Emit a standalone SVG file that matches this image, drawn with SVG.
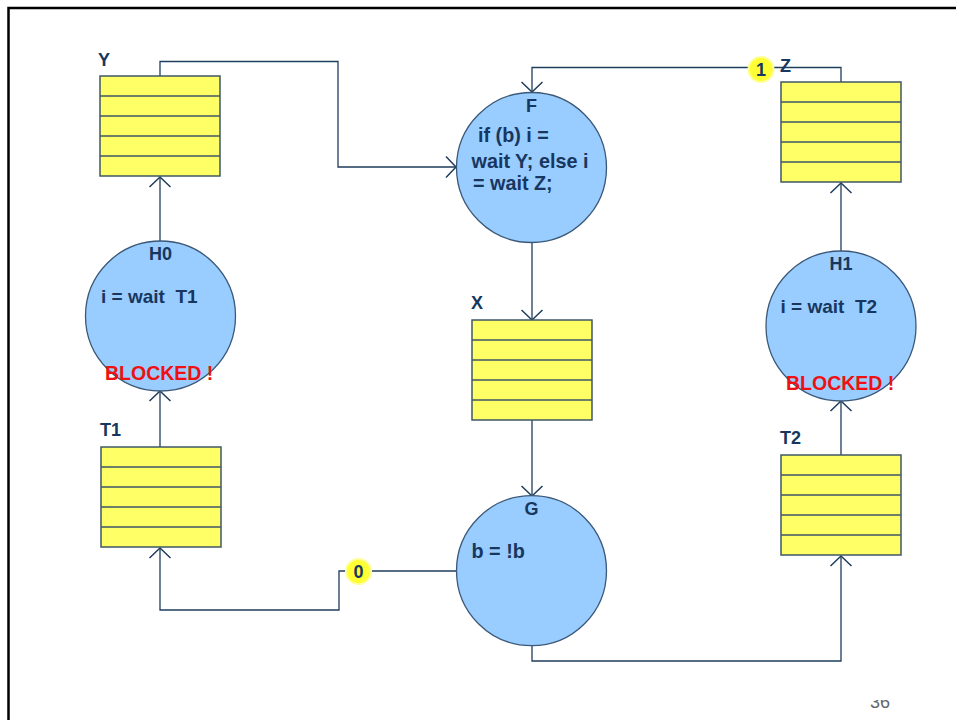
<svg xmlns="http://www.w3.org/2000/svg" width="956" height="720" viewBox="0 0 956 720">
<style>
.q{fill:#ffff66;stroke:#3f5766;stroke-width:1.5}
.qr{stroke:#3f5766;stroke-width:1.5}
.c{fill:#99ccff;stroke:#3a5878;stroke-width:1.3}
.t{font-family:"Liberation Sans",Arial,sans-serif;font-weight:bold;fill:#17375e;font-size:19px}
.f{font-size:19.8px}
.h{font-family:"Liberation Sans",Arial,sans-serif;font-weight:bold;fill:#17375e;font-size:18px}
.r{font-family:"Liberation Sans",Arial,sans-serif;font-weight:bold;fill:#ee1111;font-size:19.5px}
.e{fill:none;stroke:#1f3d5c;stroke-width:1.3}
.b{fill:#ffff33;stroke:#ffff99;stroke-width:2}
</style>
<defs>
<marker id="a" markerUnits="userSpaceOnUse" markerWidth="24" markerHeight="24" refX="12" refY="12" orient="auto" viewBox="0 0 24 24">
<path d="M2 1.5 L12 12 L2 22.5" fill="none" stroke="#1f3d5c" stroke-width="1.5"/>
</marker>
<clipPath id="pc"><rect x="850" y="700" width="60" height="20"/></clipPath>
</defs>
<rect width="956" height="720" fill="#ffffff"/>
<path d="M8.5 720 V8 H956" fill="none" stroke="#000" stroke-width="2.5"/>
<g id="connectors">
<path class="e" d="M160 241 V177" marker-end="url(#a)"/>
<path class="e" d="M160 447 V391" marker-end="url(#a)"/>
<path class="e" d="M456 571 H339 V610 H160 V548" marker-end="url(#a)"/>
<path class="e" d="M160 76 V61.5 H338 V167 H456" marker-end="url(#a)"/>
<path class="e" d="M841 82 V67.5 H532 V92" marker-end="url(#a)"/>
<path class="e" d="M532 243 V320" marker-end="url(#a)"/>
<path class="e" d="M532 420 V496" marker-end="url(#a)"/>
<path class="e" d="M532 646 V661 H841 V556" marker-end="url(#a)"/>
<path class="e" d="M841 455 V401" marker-end="url(#a)"/>
<path class="e" d="M841 251 V183" marker-end="url(#a)"/>
</g>
<g id="Y">
<rect class="q" x="100" y="76" width="120" height="100"/>
<path class="qr" d="M100 96 H220 M100 116 H220 M100 136 H220 M100 156 H220"/>
<text class="h" x="98" y="66">Y</text>
</g>
<g id="Z">
<rect class="q" x="781" y="82" width="120" height="100"/>
<path class="qr" d="M781 102 H901 M781 122 H901 M781 142 H901 M781 162 H901"/>
<text class="h" x="780" y="72">Z</text>
</g>
<g id="X">
<rect class="q" x="472" y="320" width="120" height="100"/>
<path class="qr" d="M472 340 H592 M472 360 H592 M472 380 H592 M472 400 H592"/>
<text class="h" x="471" y="309">X</text>
</g>
<g id="T1">
<rect class="q" x="101" y="447" width="120" height="100"/>
<path class="qr" d="M101 467 H221 M101 487 H221 M101 507 H221 M101 527 H221"/>
<text class="h" x="100" y="436">T1</text>
</g>
<g id="T2">
<rect class="q" x="781" y="455" width="120" height="100"/>
<path class="qr" d="M781 475 H901 M781 495 H901 M781 515 H901 M781 535 H901"/>
<text class="h" x="780" y="444">T2</text>
</g>
<g id="F">
<circle class="c" cx="531.5" cy="167.5" r="75"/>
<text class="h" x="531.5" y="112" text-anchor="middle">F</text>
<text class="t f" x="478" y="142">if (b) i =</text>
<text class="t f" x="471.5" y="168">wait Y; else i</text>
<text class="t f" x="473" y="190"> = wait Z;</text>
</g>
<g id="H0">
<circle class="c" cx="160.5" cy="316" r="75"/>
<text class="h" x="160.5" y="260" text-anchor="middle">H0</text>
<text class="t" x="101" y="303" xml:space="preserve">i = wait  T1</text>
<text class="r" x="105" y="380">BLOCKED !</text>
</g>
<g id="H1">
<circle class="c" cx="841" cy="326" r="75"/>
<text class="h" x="841" y="270" text-anchor="middle">H1</text>
<text class="t" x="780.5" y="313" xml:space="preserve">i = wait  T2</text>
<text class="r" x="786" y="390">BLOCKED !</text>
</g>
<g id="G">
<circle class="c" cx="531.5" cy="570.7" r="75"/>
<text class="h" x="531.5" y="515" text-anchor="middle">G</text>
<text class="t f" x="471.5" y="558">b = !b</text>
</g>
<g id="badge1">
<circle class="b" cx="761" cy="69.5" r="12.5"/>
<text class="h" x="761" y="76" text-anchor="middle" font-size="17">1</text>
</g>
<g id="badge0">
<circle class="b" cx="358.5" cy="571.5" r="12.5"/>
<text class="h" x="358.5" y="578" text-anchor="middle" font-size="17">0</text>
</g>
<text x="880" y="708" clip-path="url(#pc)" text-anchor="middle" font-family="Liberation Sans, Arial, sans-serif" font-size="18" fill="#666">36</text>
</svg>
